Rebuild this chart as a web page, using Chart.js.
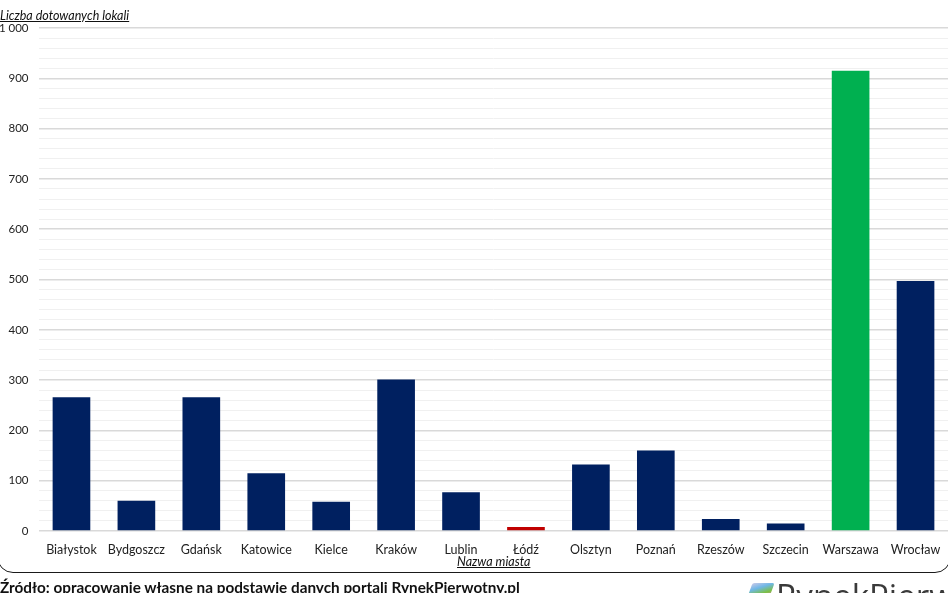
<!DOCTYPE html>
<html>
<head>
<meta charset="utf-8">
<script src="https://cdn.jsdelivr.net/npm/chart.js@4.4.1/dist/chart.umd.min.js"></script>
<style>
  html, body { margin: 0; padding: 0; background: #fff; overflow: hidden; }
  body { width: 948px; height: 593px; position: relative; font-family: Lato, "Liberation Sans", sans-serif; }
  #wrap { position: absolute; left: 0; top: 0; width: 948px; height: 593px; }
  #frame { position: absolute; left: -3px; top: -60px; width: 954px; height: 633px; border: 1.5px solid #1a1a1a; border-radius: 16px; box-sizing: border-box; pointer-events: none; }
  .ytitle { position: absolute; left: 0; top: 8px; font-size: 12.5px; line-height: 15px; font-style: italic; text-decoration: underline; color: #111; white-space: nowrap; }
  .xtitle { position: absolute; left: 457px; top: 554px; font-size: 12.5px; line-height: 15px; font-style: italic; text-decoration: underline; color: #111; white-space: nowrap; }
  .source { position: absolute; left: 0; top: 578px; font-family: Lato, sans-serif; font-weight: bold; font-size: 15.3px; line-height: 18px; color: #111; white-space: nowrap; }
  .logo { position: absolute; left: 750px; top: 580px; white-space: nowrap; }
  .logo .ic { position: absolute; left: 0; top: 3px; width: 22px; height: 14px; background: linear-gradient(160deg, #c9c9e8 0%, #6fb7e6 35%, #7bc043 70%, #e57fb0 100%); border-radius: 2px; transform: skewX(-20deg); }
  .logo .tx { position: absolute; left: 26px; top: -1px; font-family: "Open Sans", sans-serif; font-size: 33px; line-height: 33px; color: #3a3a3a; }
</style>
</head>
<body>
<div id="wrap"><canvas id="c" width="948" height="593"></canvas></div>
<div id="frame"></div>
<div class="ytitle">Liczba dotowanych lokali</div>
<div class="xtitle">Nazwa miasta</div>
<div class="source">Źródło: opracowanie własne na podstawie danych portali RynekPierwotny.pl</div>
<div class="logo"><div class="ic"></div><div class="tx">RynekPierwotny</div></div>
<script>
const cities = ["Białystok","Bydgoszcz","Gdańsk","Katowice","Kielce","Kraków","Lublin","Łódź","Olsztyn","Poznań","Rzeszów","Szczecin","Warszawa","Wrocław"];
const dotowaneLokale = [266, 60, 266, 115, 58, 301, 77, 8, 132, 160, 24, 15, 915, 497];
const barColors = ["#002060","#002060","#002060","#002060","#002060","#002060","#002060","#C00000","#002060","#002060","#002060","#002060","#00B050","#002060"];
const yTickValues = [0, 100, 200, 300, 400, 500, 600, 700, 800, 900, 1000];
const yTickLabels = ["0","100","200","300","400","500","600","700","800","900","1 000"];

const ctx = document.getElementById('c');
new Chart(ctx, {
  type: 'bar',
  data: {
    labels: cities,
    datasets: [{
      data: dotowaneLokale,
      backgroundColor: barColors,
      borderWidth: 0,
      categoryPercentage: 1.0,
      barPercentage: 0.58
    }]
  },
  options: {
    responsive: false,
    animation: false,
    devicePixelRatio: 1,
    layout: { padding: { left: 0, right: -2, top: 28, bottom: 32 } },
    plugins: { legend: { display: false }, tooltip: { enabled: false }, title: { display: false } },
    scales: {
      x: {
        grid: { display: false, drawTicks: false },
        border: { display: false },
        ticks: { color: '#222', font: { family: 'Lato', size: 12.5 }, padding: 11, maxRotation: 0, autoSkip: false },
        afterFit: s => { s.height = 30; s.paddingLeft = 0; s.paddingRight = 0; }
      },
      y: {
        min: 0, max: 1000,
        ticks: {
          stepSize: 20,
          autoSkip: false,
          color: '#222',
          font: { family: 'Lato', size: 11.5 },
          padding: 10.5,
          callback: v => { const i = yTickValues.indexOf(v); return i >= 0 ? yTickLabels[i] : ''; }
        },
        grid: {
          drawTicks: false,
          color: c => (c.tick && c.tick.value % 100 === 0) ? '#d9d9d9' : '#f0f0f0',
          lineWidth: c => (c.tick && c.tick.value % 100 === 0) ? 1.5 : 1
        },
        border: { display: false },
        afterFit: s => { s.width = 39; }
      }
    }
  }
});
</script>
</body>
</html>
